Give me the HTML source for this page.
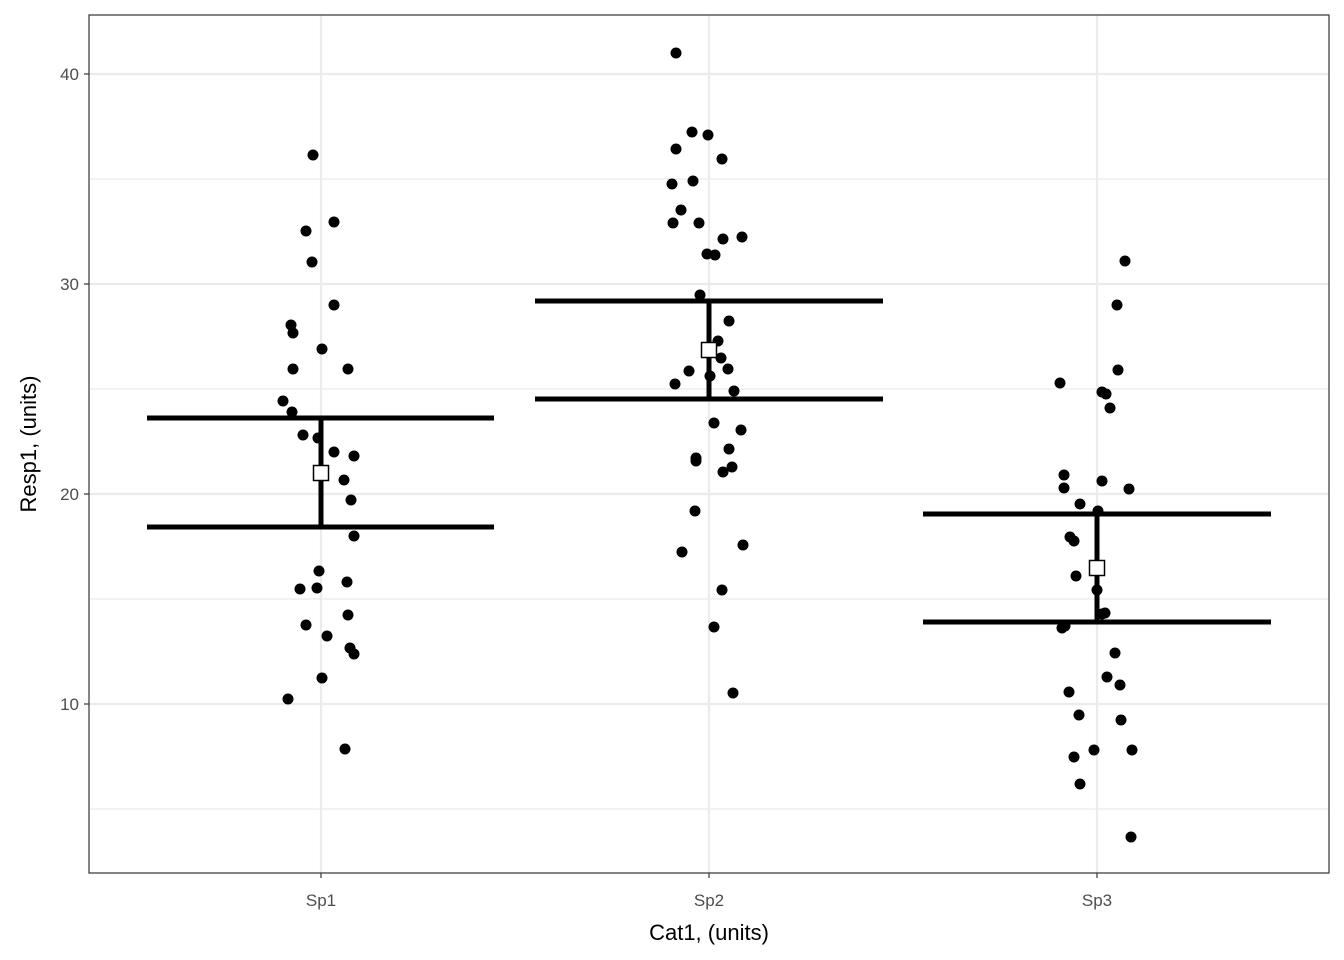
<!DOCTYPE html>
<html><head><style>body{margin:0;background:#fff}svg{display:block}</style></head><body>
<svg width="1344" height="960" xmlns="http://www.w3.org/2000/svg" font-family="Liberation Sans, sans-serif">
<rect width="1344" height="960" fill="#fff"/>
<g stroke="#ebebeb">
<g stroke-width="1.2"><line x1="89" x2="1329" y1="809" y2="809"/><line x1="89" x2="1329" y1="599" y2="599"/><line x1="89" x2="1329" y1="389" y2="389"/><line x1="89" x2="1329" y1="179" y2="179"/></g>
<g stroke-width="2.2"><line x1="89" x2="1329" y1="704" y2="704"/><line x1="89" x2="1329" y1="494" y2="494"/><line x1="89" x2="1329" y1="284" y2="284"/><line x1="89" x2="1329" y1="74" y2="74"/>
<line x1="321" x2="321" y1="15" y2="873"/><line x1="709" x2="709" y1="15" y2="873"/><line x1="1097" x2="1097" y1="15" y2="873"/></g>
</g>
<g fill="#000">
<circle cx="313" cy="155" r="5.5"/><circle cx="334" cy="222" r="5.5"/><circle cx="306" cy="231" r="5.5"/><circle cx="312" cy="262" r="5.5"/><circle cx="334" cy="305" r="5.5"/><circle cx="291" cy="325" r="5.5"/><circle cx="293" cy="333" r="5.5"/><circle cx="322" cy="349" r="5.5"/><circle cx="293" cy="369" r="5.5"/><circle cx="348" cy="369" r="5.5"/><circle cx="283" cy="401" r="5.5"/><circle cx="292" cy="412" r="5.5"/><circle cx="303" cy="435" r="5.5"/><circle cx="318" cy="438" r="5.5"/><circle cx="334" cy="452" r="5.5"/><circle cx="354" cy="456" r="5.5"/><circle cx="344" cy="480" r="5.5"/><circle cx="351" cy="500" r="5.5"/><circle cx="354" cy="536" r="5.5"/><circle cx="319" cy="571" r="5.5"/><circle cx="347" cy="582" r="5.5"/><circle cx="300" cy="589" r="5.5"/><circle cx="317" cy="588" r="5.5"/><circle cx="306" cy="625" r="5.5"/><circle cx="348" cy="615" r="5.5"/><circle cx="327" cy="636" r="5.5"/><circle cx="350" cy="648" r="5.5"/><circle cx="354" cy="654" r="5.5"/><circle cx="322" cy="678" r="5.5"/><circle cx="288" cy="699" r="5.5"/><circle cx="345" cy="749" r="5.5"/>
<circle cx="676" cy="53" r="5.5"/><circle cx="692" cy="132" r="5.5"/><circle cx="708" cy="135" r="5.5"/><circle cx="676" cy="149" r="5.5"/><circle cx="722" cy="159" r="5.5"/><circle cx="693" cy="181" r="5.5"/><circle cx="672" cy="184" r="5.5"/><circle cx="681" cy="210" r="5.5"/><circle cx="699" cy="223" r="5.5"/><circle cx="673" cy="223" r="5.5"/><circle cx="723" cy="239" r="5.5"/><circle cx="742" cy="237" r="5.5"/><circle cx="707" cy="254" r="5.5"/><circle cx="715" cy="255" r="5.5"/><circle cx="700" cy="295" r="5.5"/><circle cx="729" cy="321" r="5.5"/><circle cx="718" cy="341" r="5.5"/><circle cx="721" cy="358" r="5.5"/><circle cx="689" cy="371" r="5.5"/><circle cx="675" cy="384" r="5.5"/><circle cx="728" cy="369" r="5.5"/><circle cx="710" cy="376" r="5.5"/><circle cx="734" cy="391" r="5.5"/><circle cx="714" cy="423" r="5.5"/><circle cx="741" cy="430" r="5.5"/><circle cx="729" cy="449" r="5.5"/><circle cx="696" cy="458" r="5.5"/><circle cx="696" cy="461" r="5.5"/><circle cx="732" cy="467" r="5.5"/><circle cx="723" cy="472" r="5.5"/><circle cx="695" cy="511" r="5.5"/><circle cx="682" cy="552" r="5.5"/><circle cx="743" cy="545" r="5.5"/><circle cx="722" cy="590" r="5.5"/><circle cx="714" cy="627" r="5.5"/><circle cx="733" cy="693" r="5.5"/>
<circle cx="1125" cy="261" r="5.5"/><circle cx="1117" cy="305" r="5.5"/><circle cx="1118" cy="370" r="5.5"/><circle cx="1060" cy="383" r="5.5"/><circle cx="1102" cy="392" r="5.5"/><circle cx="1106" cy="394" r="5.5"/><circle cx="1110" cy="408" r="5.5"/><circle cx="1064" cy="475" r="5.5"/><circle cx="1102" cy="481" r="5.5"/><circle cx="1129" cy="489" r="5.5"/><circle cx="1064" cy="488" r="5.5"/><circle cx="1080" cy="504" r="5.5"/><circle cx="1098" cy="511" r="5.5"/><circle cx="1070" cy="537" r="5.5"/><circle cx="1074" cy="541" r="5.5"/><circle cx="1076" cy="576" r="5.5"/><circle cx="1097" cy="590" r="5.5"/><circle cx="1105" cy="613" r="5.5"/><circle cx="1102" cy="614" r="5.5"/><circle cx="1065" cy="626" r="5.5"/><circle cx="1062" cy="628" r="5.5"/><circle cx="1115" cy="653" r="5.5"/><circle cx="1069" cy="692" r="5.5"/><circle cx="1107" cy="677" r="5.5"/><circle cx="1120" cy="685" r="5.5"/><circle cx="1079" cy="715" r="5.5"/><circle cx="1121" cy="720" r="5.5"/><circle cx="1074" cy="757" r="5.5"/><circle cx="1094" cy="750" r="5.5"/><circle cx="1132" cy="750" r="5.5"/><circle cx="1080" cy="784" r="5.5"/><circle cx="1131" cy="837" r="5.5"/>
</g>
<g stroke="#000" stroke-width="5" fill="none">
<line x1="147" x2="494" y1="418" y2="418"/><line x1="147" x2="494" y1="527" y2="527"/><line x1="321" x2="321" y1="418" y2="527"/>
<line x1="535" x2="883" y1="301" y2="301"/><line x1="535" x2="883" y1="399" y2="399"/><line x1="709" x2="709" y1="301" y2="399"/>
<line x1="923" x2="1271" y1="514" y2="514"/><line x1="923" x2="1271" y1="622" y2="622"/><line x1="1097" x2="1097" y1="514" y2="622"/>
</g>
<g fill="#fff" stroke="#000" stroke-width="1.5">
<rect x="313.5" y="465.5" width="15" height="15"/><rect x="701.5" y="342.5" width="15" height="15"/><rect x="1089.5" y="560.5" width="15" height="15"/>
</g>
<rect x="89" y="15" width="1240" height="858" fill="none" stroke="#333" stroke-width="1.2"/>
<g stroke="#333" stroke-width="1.2"><line x1="84" x2="89" y1="704" y2="704"/><line x1="84" x2="89" y1="494" y2="494"/><line x1="84" x2="89" y1="284" y2="284"/><line x1="84" x2="89" y1="74" y2="74"/>
<line x1="321" x2="321" y1="873" y2="878"/><line x1="709" x2="709" y1="873" y2="878"/><line x1="1097" x2="1097" y1="873" y2="878"/></g>
<g fill="#4d4d4d" font-size="17" text-anchor="end"><text x="79" y="710">10</text><text x="79" y="500">20</text><text x="79" y="290">30</text><text x="79" y="80">40</text></g>
<g fill="#4d4d4d" font-size="17" text-anchor="middle"><text x="321" y="906">Sp1</text><text x="709" y="906">Sp2</text><text x="1097" y="906">Sp3</text></g>
<text x="709" y="940" font-size="22" text-anchor="middle">Cat1, (units)</text>
<text transform="translate(36,444) rotate(-90)" font-size="22" text-anchor="middle">Resp1, (units)</text>
</svg>
</body></html>
